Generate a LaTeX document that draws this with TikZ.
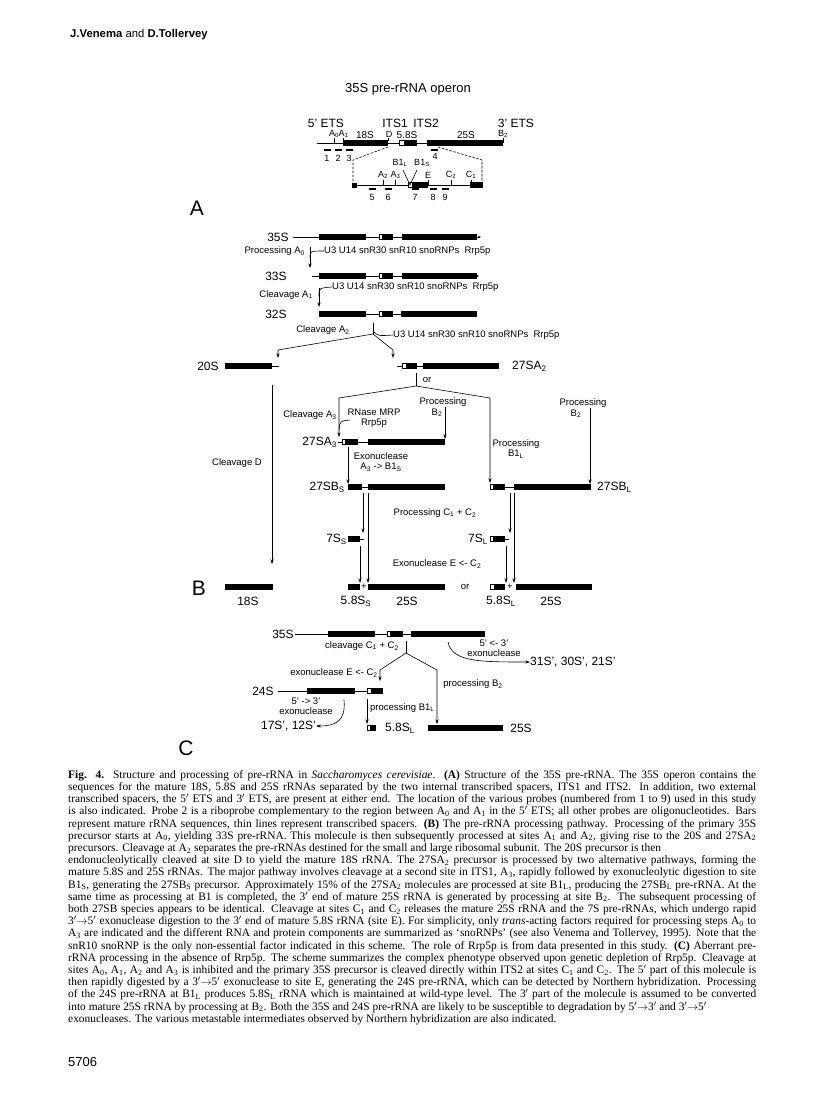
\documentclass[tikz,border=0pt]{standalone}
\usepackage{fontspec}
\setmainfont{Liberation Serif}
\setsansfont{Liberation Sans}
\usetikzlibrary{arrows.meta,positioning}
\newcommand\ssub[1]{\textsubscript{#1}}
\newcommand\prm{\ensuremath{'}}
\newcommand\rarr{\ensuremath{\rightarrow}}
\newlength\capw \setlength\capw{688pt}
\newcommand\capl[1]{\makebox[\capw][s]{#1}}
\newcommand\caps[1]{\makebox[\capw][l]{#1}}
% rRNA bars: \rbar{x1}{x2}{y}, white 5.8S part: \wbox{x1}{x2}{y}
\newcommand\rbar[3]{\fill (#1,#3-2.8) rectangle (#2,#3+2.8);}
\newcommand\wbox[3]{\draw[rrnaw] (#1,#3-2.3) rectangle (#2,#3+2.3);}
\tikzset{
  lbl/.style={inner sep=0pt,font=\sffamily\fontsize{9.5}{10}\selectfont},
  lblc/.style={lbl,align=center},
  sitelbl/.style={inner sep=0pt,font=\sffamily\fontsize{9}{10}\selectfont},
  probenum/.style={inner sep=0pt,font=\sffamily\fontsize{9}{10}\selectfont},
  rowname/.style={inner sep=0pt,font=\sffamily\fontsize{12}{13}\selectfont},
  partname/.style={inner sep=0pt,font=\sffamily\fontsize{10}{11}\selectfont},
  panel/.style={inner sep=0pt,font=\sffamily\fontsize{21}{22}\selectfont},
  spacer/.style={line width=0.6pt},
  rrnaw/.style={draw=black,fill=white,line width=0.7pt},
  probe/.style={line width=1.1pt},
  sitetick/.style={line width=0.6pt},
  zoomline/.style={line width=0.6pt,dash pattern=on 2.5pt off 1.5pt},
  ln/.style={line width=0.6pt},
  hook/.style={line width=0.6pt},
  arr/.style={-{Stealth[length=4.5pt,width=3pt]},line width=0.6pt},
  endtip/.style={-{Stealth[length=3pt,width=2.6pt]},line width=0.6pt},
  caption/.style={inner sep=0pt,align=left,font=\fontsize{11.4}{12.2}\selectfont},
}
\begin{document}
\begin{tikzpicture}[x=1pt,y=-1pt]
  \useasboundingbox (0,0) rectangle (816,1104);
  \fill[white] (0,0) rectangle (816,1104);
  \node[inner sep=0pt,anchor=west,font=\sffamily\fontsize{11.3}{12}\selectfont] (hdr) at (70,35)
     {\textbf{J.Venema} and \textbf{D.Tollervey}};
  % A: operon
  \node[inner sep=0pt,font=\sffamily\fontsize{13}{14}\selectfont] (title) at (408,89) {35S pre-rRNA operon};
  \node[rowname] (ets5) at (326,123) {5' ETS};
  \node[rowname] (its1) at (395,123) {ITS1};
  \node[rowname] (its2) at (426,123) {ITS2};
  \node[rowname] (ets3) at (516,123) {3' ETS};
  \draw[spacer] (317,143) -- (503,143);
  \rbar{343}{388}{143} \wbox{399}{404}{143} \rbar{404}{417}{143} \rbar{427}{503}{143}
  \node[partname] (o18) at (365,135) {18S};
  \node[partname] (o58) at (407,135) {5.8S};
  \node[partname] (o25) at (466,135) {25S};
  \node[sitelbl] (sA0) at (334,134) {A\ssub{0}};
  \node[sitelbl] (sA1) at (343.5,134) {A\ssub{1}};
  \node[sitelbl] (sD)  at (389,134) {D};
  \node[sitelbl] (sB2) at (503,134) {B\ssub{2}};
  \draw[sitetick] (334,138) -- (334,143);
  \draw[sitetick] (343,138) -- (343,141);
  \draw[sitetick] (388,138) -- (388,141);
  \draw[sitetick] (503,138) -- (503,143);
  \foreach \x/\n in {327/1,338/2,349/3} {
    \draw[probe] (\x-3.5,150) -- (\x+3.5,150);
    \node[probenum] at (\x,158) {\n};
  }
  \draw[probe] (431,150) -- (438,150);
  \node[probenum] (p4) at (435,156) {4};
  % expanded ITS1/ITS2 region
  \draw[zoomline] (388,147) -- (353,160) -- (353,183);
  \draw[zoomline] (438,147) -- (482,160) -- (482,183);
  \draw[spacer] (352,185) -- (483,185);
  \fill (352,182.5) rectangle (357,187.5);
  \wbox{408}{412}{185} \rbar{412}{428}{185} \rbar{470}{483}{185}
  \foreach \x/\s in {383/{A\ssub{2}},395.5/{A\ssub{3}},428/E,451/{C\ssub{2}},471/{C\ssub{1}}} {
    \node[sitelbl] at (\x,175) {\s};
    \draw[sitetick] (\x,179.5) -- (\x,185);
  }
  \node[sitelbl] (sB1L) at (400,163) {B1\ssub{L}};
  \node[sitelbl] (sB1S) at (422,163) {B1\ssub{S}};
  \draw[sitetick] (403,170) -- (410,185) -- (417,170);
  \foreach \x/\n in {372/5,388/6,415/7,433/8,445/9} {
    \draw[probe] (\x-3.5,189) -- (\x+3.5,189);
    \node[probenum] at (\x,197) {\n};
  }
  \node[panel] (pA) at (197,208) {A};
  % B: pathway
  \node[rowname] (r35) at (278,237) {35S};
  \draw[endtip] (293,237) -- (481,237);
  \rbar{319}{366}{237} \wbox{379}{382}{237} \rbar{382}{393}{237} \rbar{402}{477}{237}
  \node[lbl,anchor=east] (pA0) at (305,251) {Processing A\ssub{0}};
  \coordinate (a0top) at (310,247);
  \coordinate (a0bot) at (310,268);
  \draw[arr] (a0top) -- (a0bot);
  \node[lbl,anchor=west] (fac1) at (324,251) {U3 U14 snR30 snR10 snoRNPs\ \ Rrp5p};
  \draw[hook] (310,258) .. controls (310,251) .. (fac1.west);
  \node[rowname] (r33) at (276,276) {33S};
  \draw[endtip] (312,276) -- (479,276);
  \rbar{319}{366}{276} \wbox{379}{382}{276} \rbar{382}{393}{276} \rbar{402}{477}{276}
  \node[lbl,anchor=east] (cA1) at (313,295) {Cleavage A\ssub{1}};
  \coordinate (a1top) at (319,288);
  \coordinate (a1bot) at (319,307);
  \draw[arr] (a1top) -- (a1bot);
  \node[lbl,anchor=west] (fac2) at (332,287) {U3 U14 snR30 snR10 snoRNPs\ \ Rrp5p};
  \draw[hook] (319,296) .. controls (319,288) .. (fac2.west);
  \node[rowname] (r32) at (276,314) {32S};
  \draw[spacer] (366,314) -- (401,314);
  \rbar{319}{366}{314} \wbox{379}{382}{314} \rbar{382}{393}{314} \rbar{401}{477}{314}
  \node[lbl] (cA2) at (323,330) {Cleavage A\ssub{2}};
  \coordinate (a2top) at (373,323);
  \coordinate (a2) at (373,334);
  \draw[ln] (a2top) -- (a2);
  \node[lbl,anchor=west] (fac3) at (393,335) {U3 U14 snR30 snR10 snoRNPs\ \ Rrp5p};
  \draw[hook] (373,331) .. controls (378,336) .. (fac3.west);
  \coordinate (a2l) at (278,350);
  \coordinate (a2r) at (393,350);
  \coordinate (to20) at (278,358);
  \coordinate (to27) at (393,358);
  \draw[arr] (a2) -- (a2l) -- (to20);
  \draw[arr] (a2) -- (a2r) -- (to27);
  \node[rowname] (r20) at (208,366) {20S};
  \rbar{225}{272}{366}
  \draw[spacer] (272,366) -- (279,366);
  \draw[spacer] (397,366) -- (423,366);
  \wbox{402}{406}{366} \rbar{406}{417}{366} \rbar{423}{499}{366}
  \node[rowname,anchor=west] (r27a2) at (512,366) {27SA\ssub{2}};
  \coordinate (dtop) at (272,385);
  \coordinate (dbot) at (272,564);
  \draw[arr] (dtop) -- (dbot);
  \node[lbl] (cD) at (237,463) {Cleavage D};
  \node[lbl] (or1) at (427,380) {or};
  \coordinate (ortop) at (416,373);
  \coordinate (orb) at (416,386);
  \coordinate (orl) at (339,398);
  \coordinate (orr) at (490,398);
  \coordinate (to27a3) at (339,437);
  \coordinate (to27bl) at (490,483);
  \draw[ln] (ortop) -- (orb);
  \draw[arr] (orb) -- (orl) -- (to27a3);
  \draw[arr] (orb) -- (orr) -- (to27bl);
  \node[lbl] (cA3) at (310,415) {Cleavage A\ssub{3}};
  \node[lblc] (mrp) at (374,418) {RNase MRP\\Rrp5p};
  \draw[hook] (339,430) .. controls (340,421) .. (350,420);
  \node[lbl] (pB2a) at (443,402) {Processing};
  \node[lbl] (pB2asub) at (437,412.5) {B\ssub{2}};
  \coordinate (b2atop) at (445,407);
  \coordinate (b2abot) at (445,439);
  \draw[arr] (b2atop) -- (b2abot);
  \node[rowname,anchor=east] (r27a3) at (337,442) {27SA\ssub{3}};
  \draw[spacer] (338,442) -- (368,442);
  \wbox{342}{345}{442} \rbar{345}{358}{442} \rbar{368}{445}{442}
  \coordinate (exotop) at (348,447);
  \coordinate (exobot) at (348,484);
  \draw[arr] (exotop) -- (exobot);
  \node[lblc] (exo1) at (381,462) {Exonuclease\\A\ssub{3} -> B1\ssub{S}};
  \node[lblc] (pB1L) at (516,449) {Processing\\B1\ssub{L}};
  \node[lbl] (pB2b) at (583,403) {Processing};
  \node[lbl] (pB2bsub) at (576,413.5) {B\ssub{2}};
  \coordinate (b2btop) at (590,408);
  \coordinate (b2bbot) at (590,484);
  \draw[arr] (b2btop) -- (b2bbot);
  \node[rowname,anchor=east] (r27bs) at (345,487) {27SB\ssub{S}};
  \draw[spacer] (362,487) -- (368,487);
  \rbar{348}{362}{487} \rbar{368}{445}{487}
  \draw[spacer] (505,487) -- (514,487);
  \wbox{490}{493}{487} \rbar{493}{505}{487} \rbar{514}{591}{487}
  \node[rowname,anchor=west] (r27bl) at (597,487) {27SB\ssub{L}};
  % C1 + C2 cleavage, both branches
  \coordinate (cs1) at (363,493); \coordinate (cs1e) at (363,533);
  \coordinate (cs2) at (368,493); \coordinate (cs2e) at (368,583);
  \coordinate (cl1) at (510,493); \coordinate (cl1e) at (510,533);
  \coordinate (cl2) at (514,493); \coordinate (cl2e) at (514,583);
  \draw[arr] (cs1) -- (cs1e);
  \draw[arr] (cs2) -- (cs2e);
  \draw[arr] (cl1) -- (cl1e);
  \draw[arr] (cl2) -- (cl2e);
  \node[lbl] (pC) at (435,513) {Processing C\ssub{1} + C\ssub{2}};
  \node[rowname,anchor=east] (r7s) at (347,539) {7S\ssub{S}};
  \draw[spacer] (360,539) -- (364,539);
  \rbar{348}{360}{539}
  \node[rowname,anchor=east] (r7l) at (488,539) {7S\ssub{L}};
  \draw[spacer] (505,539) -- (509,539);
  \wbox{490}{493}{539} \rbar{493}{505}{539}
  \coordinate (e1) at (360,546); \coordinate (e1e) at (360,583);
  \coordinate (e2) at (506,546); \coordinate (e2e) at (506,583);
  \draw[arr] (e1) -- (e1e);
  \draw[arr] (e2) -- (e2e);
  \node[lbl] (exoE) at (437,564) {Exonuclease E <- C\ssub{2}};
  % mature products
  \rbar{225}{273}{587}
  \node[rowname] (m18) at (248,601) {18S};
  \rbar{348}{360}{587} \rbar{368}{445}{587}
  \node[lbl] (plus1) at (364,587) {+};
  \node[rowname] (m58s) at (356,601) {5.8S\ssub{S}};
  \node[rowname] (m25a) at (407,601) {25S};
  \node[lbl] (or2) at (465,587) {or};
  \wbox{490}{494}{587} \rbar{494}{505}{587} \rbar{516}{592}{587}
  \node[lbl] (plus2) at (510,587) {+};
  \node[rowname] (m58l) at (501,601) {5.8S\ssub{L}};
  \node[rowname] (m25b) at (551,601) {25S};
  \node[panel] (pB) at (199,588) {B};
  % C: without Rrp5p
  \node[rowname] (c35) at (283,634) {35S};
  \draw[spacer] (295,634) -- (485,634);
  \rbar{328}{375}{634} \wbox{387}{390}{634} \rbar{390}{403}{634} \rbar{411}{485}{634}
  \node[lbl] (cC) at (362,646) {cleavage C\ssub{1} + C\ssub{2}};
  \coordinate (ctop) at (406,641);
  \coordinate (cb) at (406,653);
  \coordinate (cbl) at (380,670);
  \coordinate (cbr) at (437,670);
  \coordinate (to24) at (380,681);
  \coordinate (to25) at (437,724);
  \draw[ln] (ctop) -- (cb);
  \draw[arr] (cb) -- (cbl) -- (to24);
  \draw[arr] (cb) -- (cbr) -- (to25);
  \node[lbl] (exoE2) at (334,673) {exonuclease E <- C\ssub{2}};
  \node[lbl] (pB2c) at (473,684) {processing B\ssub{2}};
  \node[lblc] (exo3) at (494,648) {5' <- 3'\\exonuclease};
  \node[rowname,anchor=west] (deg1) at (530,662) {31S', 30S', 21S'};
  \draw[arr] (448,642) .. controls (452,662) and (480,662) .. (deg1.west);
  \node[rowname] (c24) at (263,691) {24S};
  \draw[spacer] (278,691) -- (367,691);
  \rbar{307}{355}{691} \wbox{367}{371}{691} \rbar{371}{383}{691}
  \node[lblc] (exo4) at (306,706) {5' -> 3'\\exonuclease};
  \node[rowname,anchor=east] (deg2) at (316,726) {17S', 12S'};
  \draw[arr] (344,700) .. controls (346,722) and (335,726) .. (deg2.east);
  \coordinate (b1ltop) at (367,699);
  \coordinate (b1lbot) at (367,724);
  \draw[arr] (b1ltop) -- (b1lbot);
  \node[lbl,anchor=west] (pB1Lc) at (370,708) {processing B1\ssub{L}};
  \wbox{367}{370}{728} \rbar{370}{376}{728}
  \node[rowname] (c58) at (400,728) {5.8S\ssub{L}};
  \rbar{428}{503}{728}
  \node[rowname] (c25) at (521,728) {25S};
  \node[panel] (pC) at (186,748) {C};
  % legend
  \node[caption,anchor=north west] (cap) at (68,770) {%
\capl{\textbf{Fig. 4.} Structure and processing of pre-rRNA in \textit{Saccharomyces cerevisiae}. \textbf{(A)} Structure of the 35S pre-rRNA. The 35S operon contains the}\\
\capl{sequences for the mature 18S, 5.8S and 25S rRNAs separated by the two internal transcribed spacers, ITS1 and ITS2. In addition, two external}\\
\capl{transcribed spacers, the 5\prm{} ETS and 3\prm{} ETS, are present at either end. The location of the various probes (numbered from 1 to 9) used in this study}\\
\capl{is also indicated. Probe 2 is a riboprobe complementary to the region between A\ssub{0} and A\ssub{1} in the 5\prm{} ETS; all other probes are oligonucleotides. Bars}\\
\capl{represent mature rRNA sequences, thin lines represent transcribed spacers. \textbf{(B)} The pre-rRNA processing pathway. Processing of the primary 35S}\\
\capl{precursor starts at A\ssub{0}, yielding 33S pre-rRNA. This molecule is then subsequently processed at sites A\ssub{1} and A\ssub{2}, giving rise to the 20S and 27SA\ssub{2}}\\
\caps{precursors. Cleavage at A\ssub{2} separates the pre-rRNAs destined for the small and large ribosomal subunit. The 20S precursor is then}\\
\capl{endonucleolytically cleaved at site D to yield the mature 18S rRNA. The 27SA\ssub{2} precursor is processed by two alternative pathways, forming the}\\
\capl{mature 5.8S and 25S rRNAs. The major pathway involves cleavage at a second site in ITS1, A\ssub{3}, rapidly followed by exonucleolytic digestion to site}\\
\capl{B1\ssub{S}, generating the 27SB\ssub{S} precursor. Approximately 15\% of the 27SA\ssub{2} molecules are processed at site B1\ssub{L}, producing the 27SB\ssub{L} pre-rRNA. At the}\\
\capl{same time as processing at B1 is completed, the 3\prm{} end of mature 25S rRNA is generated by processing at site B\ssub{2}. The subsequent processing of}\\
\capl{both 27SB species appears to be identical. Cleavage at sites C\ssub{1} and C\ssub{2} releases the mature 25S rRNA and the 7S pre-rRNAs, which undergo rapid}\\
\capl{3\prm\rarr5\prm{} exonuclease digestion to the 3\prm{} end of mature 5.8S rRNA (site E). For simplicity, only \textit{trans}-acting factors required for processing steps A\ssub{0} to}\\
\capl{A\ssub{3} are indicated and the different RNA and protein components are summarized as `snoRNPs' (see also Venema and Tollervey, 1995). Note that the}\\
\capl{snR10 snoRNP is the only non-essential factor indicated in this scheme. The role of Rrp5p is from data presented in this study. \textbf{(C)} Aberrant pre-}\\
\capl{rRNA processing in the absence of Rrp5p. The scheme summarizes the complex phenotype observed upon genetic depletion of Rrp5p. Cleavage at}\\
\capl{sites A\ssub{0}, A\ssub{1}, A\ssub{2} and A\ssub{3} is inhibited and the primary 35S precursor is cleaved directly within ITS2 at sites C\ssub{1} and C\ssub{2}. The 5\prm{} part of this molecule is}\\
\capl{then rapidly digested by a 3\prm\rarr5\prm{} exonuclease to site E, generating the 24S pre-rRNA, which can be detected by Northern hybridization. Processing}\\
\capl{of the 24S pre-rRNA at B1\ssub{L} produces 5.8S\ssub{L} rRNA which is maintained at wild-type level. The 3\prm{} part of the molecule is assumed to be converted}\\
\caps{into mature 25S rRNA by processing at B\ssub{2}. Both the 35S and 24S pre-rRNA are likely to be susceptible to degradation by 5\prm\rarr3\prm{} and 3\prm\rarr5\prm}\\
\caps{exonucleases. The various metastable intermediates observed by Northern hybridization are also indicated.}};
  \node[inner sep=0pt,anchor=west,font=\sffamily\fontsize{13}{14}\selectfont] (pgno) at (68,1062) {5706};
\end{tikzpicture}
\end{document}
